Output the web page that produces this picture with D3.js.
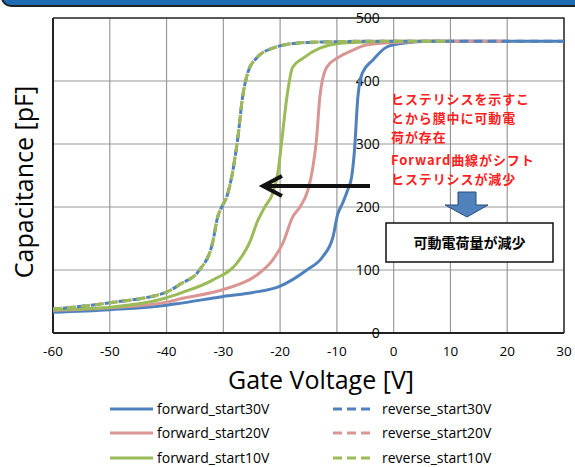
<!DOCTYPE html>
<html>
<head>
<meta charset="utf-8">
<script src="https://cdn.jsdelivr.net/npm/d3@7"></script>
<style>
  body { margin: 0; background: #fff; }
  svg { display: block; }
</style>
</head>
<body>
<div id="chart"></div>
<script>
// Gate voltage [V] and capacitance [pF]
const fwd30V = [-60, -50, -40, -37.7, -30, -25, -20.1, -15.3, -12.5, -10.7, -9.9, -9.0, -8.1, -7.4, -6.9, -6.3, -5.5, -3.7, -1.2, 1.6, 6, 10, 20, 30]
const fwd30C = [33, 37, 44, 47, 58, 64, 74, 100, 121, 152, 187, 206, 227, 248, 290, 375, 413, 433, 454, 460, 463, 463, 463, 463]

const fwd20V = [-60, -50, -40, -37.7, -30, -24.1, -21.3, -19.5, -17.8, -16.5, -15.1, -14.3, -13.6, -13.0, -11.8, -10.0, -7.2, -4.8, 0, 10, 20]
const fwd20C = [36, 40, 49, 54, 69, 92, 116, 143, 184, 200, 227, 259, 306, 375, 422, 436, 449, 457, 461, 463, 463]

const fwd10V = [-60, -50, -40, -37.7, -31.9, -27.6, -25.4, -23.9, -22.7, -21.3, -20.4, -19.7, -18.8, -17.8, -16.0, -13.0, -9.5, -4.8, 0, 10]
const fwd10C = [37, 41, 56, 63, 84, 111, 143, 179, 200, 222, 254, 306, 375, 422, 436, 452, 460, 462, 463, 463]

const revV = [-60, -50, -40, -37.7, -34.2, -31.9, -31.0, -30.3, -29.4, -28.3, -27.5, -26.6, -25.7, -24.1, -21.3, -17.1, -12.5, -5, 0, 10, 20, 30]
const rev30C = [38, 48, 65, 77, 100, 143, 184, 200, 216, 259, 306, 375, 413, 437, 452, 460, 462, 463, 463, 463, 463, 463]
const rev20C = [38, 48, 65, 77, 100, 143, 184, 200, 216, 259, 306, 375, 413, 437, 452, 460, 462, 463, 463, 463, 463]
const rev10C = [38, 48, 65, 77, 100, 143, 184, 200, 216, 259, 306, 375, 413, 437, 452, 460, 462, 463, 463, 463]

const xTicks = [-60, -50, -40, -30, -20, -10, 0, 10, 20, 30]
const yTicks = [0, 100, 200, 300, 400, 500]

const seriesNames = ["forward_start30V", "forward_start20V", "forward_start10V",
                     "reverse_start30V", "reverse_start20V", "reverse_start10V"]

const noteLines = ["ヒステリシスを示すこ", "とから膜中に可動電", "荷が存在", "Forward曲線がシフト", "ヒステリシスが減少"]
const boxText = "可動電荷量が減少"

let blue = "#4f81bd", pink = "#d99694", green = "#9bbb59"

let series = [
    {name: seriesNames[0], v: fwd30V, c: fwd30C, color: blue, dash: null, order: 0},
    {name: seriesNames[1], v: fwd20V, c: fwd20C, color: pink, dash: null, order: 1},
    {name: seriesNames[2], v: fwd10V, c: fwd10C, color: green, dash: null, order: 2},
    {name: seriesNames[3], v: revV.slice(0, rev30C.length), c: rev30C, color: blue, dash: "9,5", order: 4, offset: 4},
    {name: seriesNames[4], v: revV.slice(0, rev20C.length), c: rev20C, color: pink, dash: "9,5", order: 3},
    {name: seriesNames[5], v: revV.slice(0, rev10C.length), c: rev10C, color: green, dash: "9,5", order: 5}
]

const W = 575, H = 467
let svg = d3.select("#chart").append("svg")
    .attr("width", W)
    .attr("height", H)

let font = "'Open Sans', sans-serif"
let jpFont = "'Noto Sans CJK JP', sans-serif"

// slide title bar remains at the top
svg.append("rect")
    .attr("x", 2).attr("y", -30)
    .attr("width", W + 20).attr("height", 36)
    .attr("rx", 9)
    .attr("fill", "#1e6cb4")
    .attr("stroke", "#222")
    .attr("stroke-width", 2)

// scales
let x = d3.scaleLinear().domain([-60, 30]).range([53, 564])
let y = d3.scaleLinear().domain([0, 500]).range([333, 18])

// grid
let grid = svg.append("g").attr("id", "grid")
grid.selectAll(".vgrid")
    .data(xTicks)
    .enter().append("line")
    .attr("x1", d => x(d)).attr("x2", d => x(d))
    .attr("y1", y(500)).attr("y2", y(0))
    .attr("stroke", "#9a9a9a")
    .attr("stroke-width", 1.2)
grid.selectAll(".hgrid")
    .data(yTicks)
    .enter().append("line")
    .attr("x1", x(-60)).attr("x2", x(30))
    .attr("y1", d => y(d)).attr("y2", d => y(d))
    .attr("stroke", "#9a9a9a")
    .attr("stroke-width", 1.2)

// plot border (top / right) and axis lines
svg.append("path")
    .attr("d", `M${x(-60)},${y(500)}H${x(30)}V${y(0)}`)
    .attr("fill", "none")
    .attr("stroke", "#333")
    .attr("stroke-width", 1.5)
svg.append("line")
    .attr("x1", x(-60)).attr("x2", x(30))
    .attr("y1", y(0)).attr("y2", y(0))
    .attr("stroke", "#222").attr("stroke-width", 2)
svg.append("line")
    .attr("x1", x(-60)).attr("x2", x(-60))
    .attr("y1", y(0)).attr("y2", y(500))
    .attr("stroke", "#222").attr("stroke-width", 2)

// x tick labels
svg.append("g").selectAll("text")
    .data(xTicks)
    .enter().append("text")
    .attr("x", d => x(d))
    .attr("y", 356)
    .attr("text-anchor", "middle")
    .style("font-family", font)
    .style("font-size", "13.5px")
    .style("fill", "#000")
    .text(d => d)

// y tick labels, next to the axis crossing at 0 V
svg.append("g").selectAll("text")
    .data(yTicks)
    .enter().append("text")
    .attr("x", x(0) - 14)
    .attr("y", d => y(d) + 5)
    .attr("text-anchor", "end")
    .style("font-family", font)
    .style("font-size", "14px")
    .style("fill", "#000")
    .text(d => d)

// axis titles
svg.append("text")
    .attr("x", 321).attr("y", 389)
    .attr("text-anchor", "middle")
    .style("font-family", font)
    .style("font-size", "25px")
    .text("Gate Voltage [V]")

svg.append("text")
    .attr("transform", "translate(33,182) rotate(-90)")
    .attr("text-anchor", "middle")
    .style("font-family", font)
    .style("font-size", "25px")
    .text("Capacitance [pF]")

// curves
let line = d3.line()
    .x(d => x(d[0]))
    .y(d => y(d[1]))
    .curve(d3.curveMonotoneX)

let curves = svg.append("g").attr("id", "curves")
curves.selectAll("path")
    .data(series.slice().sort((a, b) => a.order - b.order))
    .enter().append("path")
    .attr("d", s => line(s.v.map((v, i) => [v, s.c[i]])))
    .attr("fill", "none")
    .attr("stroke", s => s.color)
    .attr("stroke-width", 3)
    .attr("stroke-dasharray", s => s.dash)
    .attr("stroke-dashoffset", s => s.offset || 0)
    .attr("stroke-linejoin", "round")

// black arrow pointing left (shift of forward curves)
let arrowY = 186
svg.append("line")
    .attr("x1", 370).attr("x2", 265)
    .attr("y1", arrowY).attr("y2", arrowY)
    .attr("stroke", "#111").attr("stroke-width", 4)
svg.append("path")
    .attr("d", `M282,${arrowY - 10}L263,${arrowY}L282,${arrowY + 10}`)
    .attr("fill", "none")
    .attr("stroke", "#111").attr("stroke-width", 4)

// red note
svg.append("g").selectAll("text")
    .data(noteLines)
    .enter().append("text")
    .attr("x", 391)
    .attr("y", (d, i) => [104, 123, 142, 165, 184][i])
    .style("font-family", jpFont)
    .style("font-weight", "bold")
    .style("font-size", "13px")
    .style("letter-spacing", "0.9px")
    .style("fill", "#ff1f1f")
    .text(d => d)

// blue down arrow
svg.append("path")
    .attr("d", "M458,192H476V205H488L467,217L445,205H458Z")
    .attr("fill", "#4f81bd")
    .attr("stroke", "#2c4d75")
    .attr("stroke-width", 1)

// boxed conclusion
svg.append("rect")
    .attr("x", 386).attr("y", 223)
    .attr("width", 167).attr("height", 39)
    .attr("fill", "#fff")
    .attr("stroke", "#111")
    .attr("stroke-width", 1.5)
svg.append("text")
    .attr("x", 469.5).attr("y", 248)
    .attr("text-anchor", "middle")
    .style("font-family", jpFont)
    .style("font-weight", "bold")
    .style("font-size", "14px")
    .text(boxText)

// legend, two columns of three
let legend = svg.append("g").attr("id", "legend")
let rowY = [409, 433, 458]
series.forEach((s, i) => {
    let col = Math.floor(i / 3), row = i % 3
    let lx1 = col == 0 ? 110 : 333
    let lx2 = col == 0 ? 153 : 373
    let tx = col == 0 ? 157 : 382
    legend.append("line")
        .attr("x1", lx1).attr("x2", lx2)
        .attr("y1", rowY[row]).attr("y2", rowY[row])
        .attr("stroke", s.color)
        .attr("stroke-width", 3)
        .attr("stroke-dasharray", s.dash)
    legend.append("text")
        .attr("x", tx).attr("y", rowY[row] + 5)
        .style("font-family", font)
        .style("font-size", "14px")
        .text(s.name)
})
</script>
</body>
</html>
